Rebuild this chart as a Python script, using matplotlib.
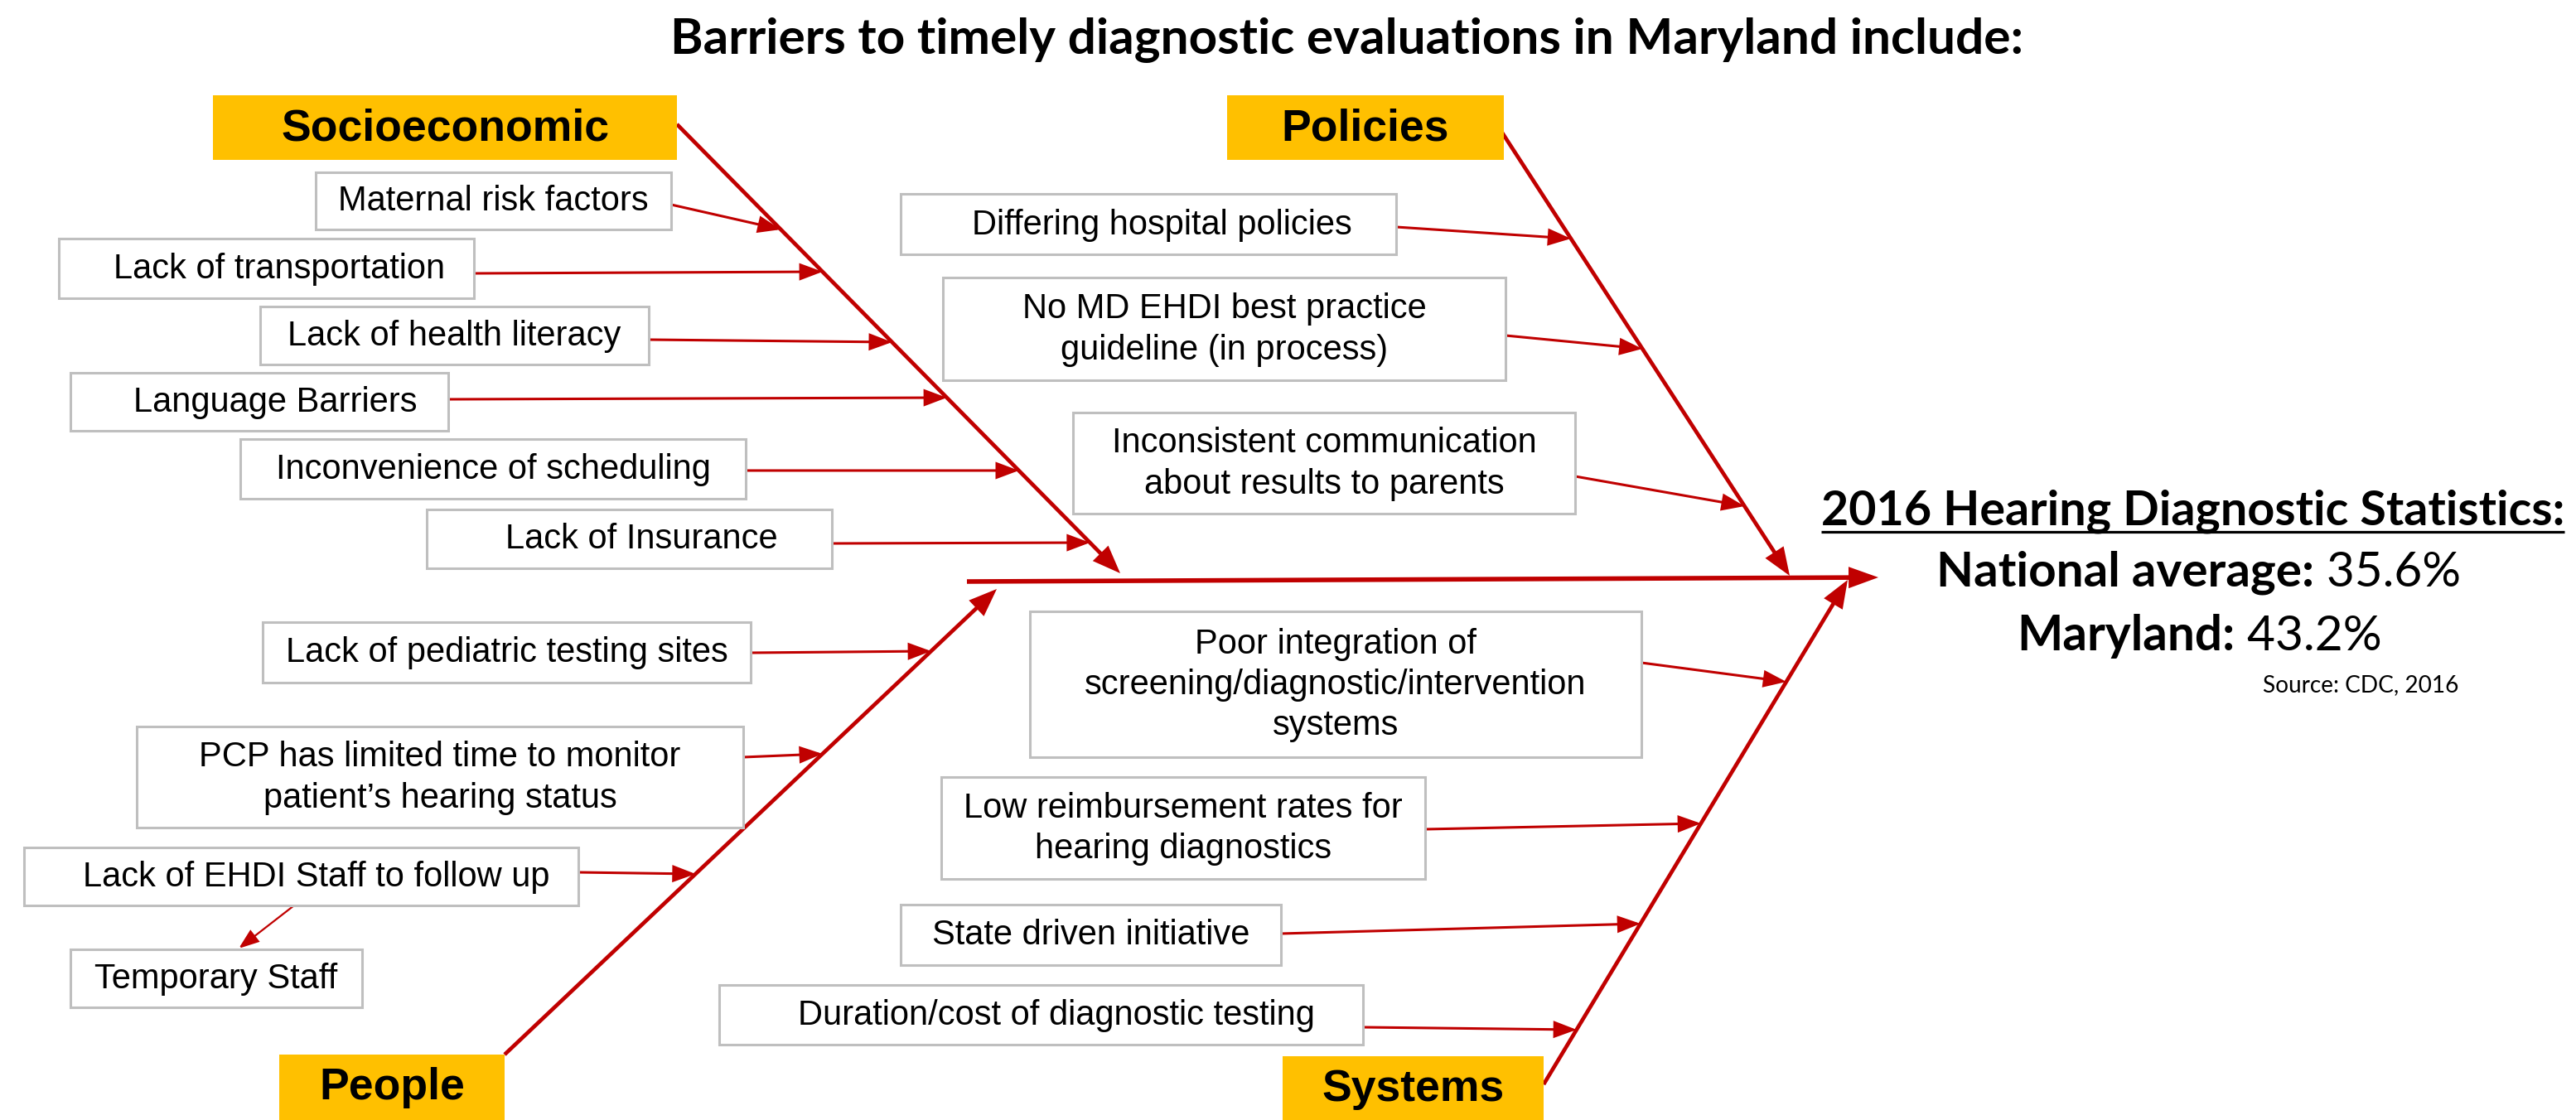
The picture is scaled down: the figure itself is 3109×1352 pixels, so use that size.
import matplotlib
matplotlib.use("Agg")
import matplotlib.pyplot as plt
from matplotlib.patches import Rectangle, FancyArrowPatch, ArrowStyle

# ---------------- content ----------------
TITLE = "Barriers to timely diagnostic evaluations in Maryland include:"
CATEGORIES = ["Socioeconomic", "Policies", "People", "Systems"]

SOCIO_CAUSES = ["Maternal risk factors", "Lack of transportation", "Lack of health literacy",
                "Language Barriers", "Inconvenience of scheduling", "Lack of Insurance"]
POLICY_CAUSES = ["Differing hospital policies",
                 "No MD EHDI best practice\nguideline (in process)",
                 "Inconsistent communication\nabout results to parents"]
PEOPLE_CAUSES = ["Lack of pediatric testing sites",
                 "PCP has limited time to monitor\npatient\u2019s hearing status",
                 "Lack of EHDI Staff to follow up"]
SUB_CAUSE = "Temporary Staff"
SYSTEM_CAUSES = ["Poor integration of\nscreening/diagnostic/intervention\nsystems",
                 "Low reimbursement rates for\nhearing diagnostics",
                 "State driven initiative",
                 "Duration/cost of diagnostic testing"]

STATS_HEADING = "2016 Hearing Diagnostic Statistics:"
STAT_LABELS = ["National average:", "Maryland:"]
STAT_VALUES = ["35.6%", "43.2%"]
SOURCE = "Source: CDC, 2016"

# ---------------- layout (pixel space, y downward) ----------------
W, H = 3109, 1352
RED = "#C00000"
GOLD = "#FFC000"
GRAY = "#BFBFBF"

cat_boxes = [(257, 115, 817, 193), (1481, 115, 1815, 193),
             (337, 1273, 609, 1352), (1548, 1275, 1863, 1352)]
bones = [((817, 150), (1352, 692)),     # socio
         ((1809, 154), (2160, 695)),    # policies
         ((609, 1273), (1203, 711)),    # people
         ((1863, 1309), (2230, 700))]   # systems
spine = ((1167, 702), (2267, 697))

socio_boxes = [(381, 208, 810, 277), (71, 288, 572, 360), (314, 370, 783, 440),
               (85, 450, 541, 520), (290, 530, 900, 602), (515, 615, 1004, 686)]
socio_dx = [0, 16, 0, 19, 0, 15]
socio_arrow = [(247, 277), (330, 328), (410, 413), (482, 480), (568, 568), (656, 655)]

policy_boxes = [(1087, 234, 1685, 307), (1138, 335, 1817, 459), (1295, 498, 1901, 620)]
policy_dx = [16, 0, 0]
policy_arrow = [(274, 288), (405, 421), (575, 611)]

people_boxes = [(317, 751, 906, 824), (165, 877, 897, 999), (29, 1023, 698, 1093)]
people_dx = [0, 0, 18]
people_arrow = [(788, 786), (914, 910), (1053, 1055)]
sub_box = (85, 1146, 437, 1216)

system_boxes = [(1243, 738, 1981, 914), (1136, 938, 1720, 1061),
                (1087, 1092, 1546, 1165), (868, 1189, 1645, 1261)]
system_dx = [0, 0, 0, 18]
system_arrow = [(800, 823), (1001, 994), (1127, 1115), (1240, 1243)]

fig = plt.figure(figsize=(W / 100, H / 100), dpi=100)
ax = fig.add_axes([0, 0, 1, 1])
ax.set_xlim(0, W)
ax.set_ylim(H, 0)
ax.axis("off")
renderer = fig.canvas.get_renderer()

ARIAL = "Liberation Sans"
CAL = "Lato"


def arrow(p0, p1, lw, hl, hw, z=3):
    a = FancyArrowPatch(p0, p1, arrowstyle=ArrowStyle("-|>", head_length=hl, head_width=hw),
                        mutation_scale=1, lw=lw, color=RED, shrinkA=0, shrinkB=0,
                        joinstyle="miter", capstyle="butt", zorder=z)
    ax.add_patch(a)


def x_on(bone, y):
    (x0, y0), (x1, y1) = bone
    return x0 + (x1 - x0) * (y - y0) / (y1 - y0)


def cause_box(box, text, dx=0):
    x0, y0, x1, y1 = box
    ax.add_patch(Rectangle((x0, y0), x1 - x0, y1 - y0, fc="white", ec=GRAY, lw=2.2, zorder=4))
    ax.text((x0 + x1) / 2 + dx, (y0 + y1) / 2 + 1, text, ha="center", va="center",
            fontsize=30, family=ARIAL, color="black", linespacing=1.3, zorder=5)


# spine and bones
arrow(*spine, lw=4.0, hl=18, hw=6.5, z=2)
for b in bones:
    arrow(*b, lw=3.4, hl=18, hw=7, z=2)

# category boxes
for box, name in zip(cat_boxes, CATEGORIES):
    x0, y0, x1, y1 = box
    ax.add_patch(Rectangle((x0, y0), x1 - x0, y1 - y0, fc=GOLD, ec="none", zorder=4))
    ax.text((x0 + x1) / 2, (y0 + y1) / 2 + 1, name, ha="center", va="center",
            fontsize=38.5, fontweight="bold", family=ARIAL, color="black", zorder=5)

groups = [(SOCIO_CAUSES, socio_boxes, socio_dx, socio_arrow, bones[0]),
          (POLICY_CAUSES, policy_boxes, policy_dx, policy_arrow, bones[1]),
          (PEOPLE_CAUSES, people_boxes, people_dx, people_arrow, bones[2]),
          (SYSTEM_CAUSES, system_boxes, system_dx, system_arrow, bones[3])]
for texts, boxes, dxs, arrs, bone in groups:
    for t, box, dx, (ys, yt) in zip(texts, boxes, dxs, arrs):
        cause_box(box, t, dx)
        arrow((box[2], ys), (x_on(bone, yt), yt), lw=2.2, hl=16, hw=6)

# sub cause
cause_box(sub_box, SUB_CAUSE)
arrow((355, 1093), (288, 1145), lw=1.6, hl=15, hw=5.5)

# ---------------- texts on the right / title ----------------

def fit_width(t, target):
    bb = t.get_window_extent(renderer)
    t.set_fontsize(t.get_fontsize() * target / bb.width)


title = ax.text(1626, 65, TITLE, ha="center", va="baseline", fontsize=40,
                fontweight="bold", family=CAL, color="black")
fit_width(title, 1632)

head = ax.text(2198, 634, STATS_HEADING, ha="left", va="baseline", fontsize=40,
               fontweight="bold", family=CAL, color="black")
fit_width(head, 897)
ax.plot([2198, 3095], [642, 642], color="black", lw=2.3, solid_capstyle="butt")


def mixed(label, value, x0, x1, y, size=40):
    t1 = ax.text(x0, y, label, ha="left", va="baseline", fontsize=size,
                 fontweight="bold", family=CAL, color="black")
    t2 = ax.text(x0, y, " " + value, ha="left", va="baseline", fontsize=size,
                 family=CAL, color="black")
    w1 = t1.get_window_extent(renderer).width
    w2 = t2.get_window_extent(renderer).width
    s = size * (x1 - x0) / (w1 + w2)
    t1.set_fontsize(s)
    t2.set_fontsize(s)
    w1 = t1.get_window_extent(renderer).width
    t2.set_x(x0 + w1)


mixed(STAT_LABELS[0], STAT_VALUES[0], 2337, 2970, 708)
mixed(STAT_LABELS[1], STAT_VALUES[1], 2434, 2875, 785)

src = ax.text(2731, 835, SOURCE, ha="left", va="baseline", fontsize=20,
              family=CAL, color="black")
fit_width(src, 237)

fig.savefig("out.png", dpi=100)
